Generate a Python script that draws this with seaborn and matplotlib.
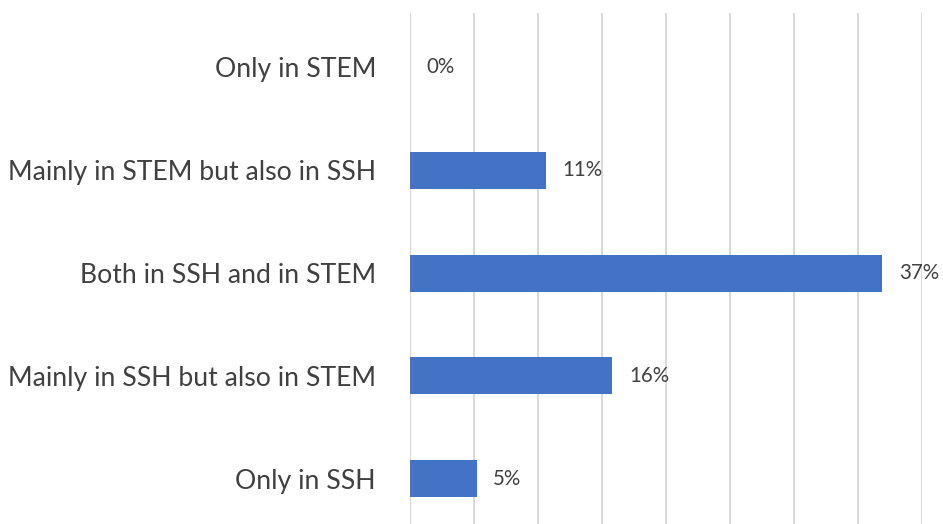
import seaborn as sns
import matplotlib.pyplot as plt
import pandas as pd

# values (percent)
categories = ['Only in STEM',
              'Mainly in STEM but also in SSH',
              'Both in SSH and in STEM',
              'Mainly in SSH but also in STEM',
              'Only in SSH']
shares = [0.0, 10.6, 36.9, 15.8, 5.2]
x_ticks = [0, 5, 10, 15, 20, 25, 30, 35, 40]

df = pd.DataFrame({'category': categories, 'share': shares})

sns.set_style('white')
plt.rcParams['font.family'] = ['Lato', 'DejaVu Sans']

fig = plt.figure(figsize=(9.43, 5.24), dpi=100)
ax = fig.add_axes([410 / 943, -3 / 524, 512 / 943, 514 / 524])

sns.barplot(data=df, x='share', y='category', ax=ax, color='#4472C4',
            saturation=1, width=0.36, orient='h', linewidth=0)

ax.set_xlim(0, 40)
ax.set_ylim(4.47, -0.53)
ax.set_xticks(x_ticks)
ax.tick_params(axis='x', bottom=False, labelbottom=False)
ax.tick_params(axis='y', left=False, pad=21, labelsize=19.2, labelcolor='#404040')
ax.grid(axis='x', color='#D9D9D9', linewidth=1.5)
ax.set_axisbelow(True)
for s in ax.spines.values():
    s.set_visible(False)
ax.set_xlabel('')
ax.set_ylabel('')

for i, v in enumerate(shares):
    ax.annotate(f'{v:.0f}%', (v, i), xytext=(12, 0), textcoords='offset points',
                va='center', ha='left', fontsize=14.8, color='#404040')

fig.savefig('out.png', dpi=100)
